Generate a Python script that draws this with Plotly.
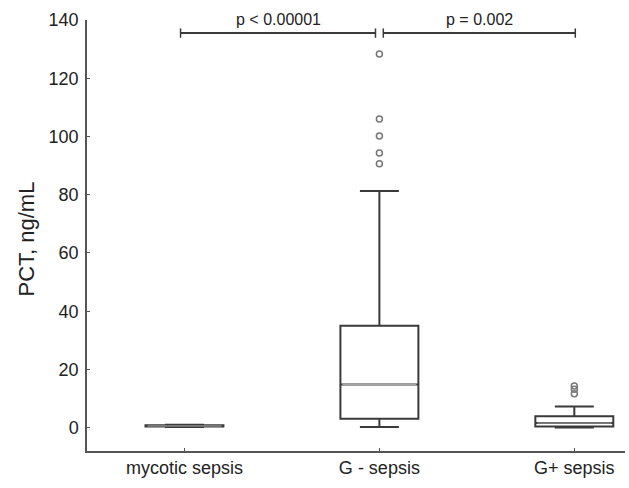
import plotly.graph_objects as go

categories = ["mycotic sepsis", "G - sepsis", "G+ sepsis"]
q1 = [0.4, 3.1, 0.4]
median = [0.6, 14.8, 1.6]
q3 = [0.8, 35.0, 3.9]
lowerfence = [0.2, 0.2, 0.1]
upperfence = [1.0, 81.3, 7.3]
outliers = [[], [90.6, 94.3, 100.2, 106.0, 128.3], [11.7, 13.2, 14.3]]
comparisons = [(0, 1, "p < 0.00001"), (1, 2, "p = 0.002")]
bracket_y = 135.5
y_ticks = [0, 20, 40, 60, 80, 100, 120, 140]
y_title = "PCT, ng/mL"

positions = list(range(len(categories)))
box_w = 0.4
dark = "#3a3a3a"
font_family = "Liberation Sans, Arial, sans-serif"

fig = go.Figure()
for i, cat in enumerate(categories):
    fig.add_trace(go.Box(
        x=[positions[i]], q1=[q1[i]], median=[median[i]], q3=[q3[i]],
        lowerfence=[lowerfence[i]], upperfence=[upperfence[i]],
        width=box_w, whiskerwidth=0.5, fillcolor="white",
        line=dict(color=dark, width=2), boxpoints=False,
        showlegend=False, hoverinfo="skip"))
    # lighter median line
    fig.add_trace(go.Scatter(
        x=[positions[i] - box_w / 2 + 0.01, positions[i] + box_w / 2 - 0.01],
        y=[median[i], median[i]], mode="lines",
        line=dict(color="#b0b0b0", width=1), showlegend=False, hoverinfo="skip"))
    if outliers[i]:
        fig.add_trace(go.Scatter(
            x=[positions[i]] * len(outliers[i]), y=outliers[i], mode="markers",
            marker=dict(symbol="circle-open", size=6, color="#777777",
                        line=dict(width=1.5)),
            showlegend=False, hoverinfo="skip"))

gap = 0.02
cap = 1.6
for a, b, label in comparisons:
    x0 = positions[a] - (0.02 if a == 0 else -gap)
    x1 = positions[b] - gap if b == 1 else positions[b] + 0.005
    fig.add_shape(type="line", x0=x0, x1=x1, y0=bracket_y, y1=bracket_y,
                  line=dict(color=dark, width=2))
    for xx in (x0, x1):
        fig.add_shape(type="line", x0=xx, x1=xx, y0=bracket_y - cap, y1=bracket_y + cap,
                      line=dict(color=dark, width=1.5))
    fig.add_annotation(x=(x0 + x1) / 2, y=bracket_y, text=label, showarrow=False,
                       yanchor="bottom", yshift=3,
                       font=dict(size=16, color="#222", family=font_family))

fig.add_annotation(xref="paper", yref="paper", x=0, y=0.5, xshift=-61, yshift=-4,
                   text=y_title, textangle=-90, showarrow=False,
                   xanchor="center", yanchor="middle",
                   font=dict(size=22, color="#222", family=font_family))

fig.update_layout(
    width=629, height=488,
    margin=dict(l=87, r=4, t=20, b=37),
    plot_bgcolor="white", paper_bgcolor="white",
    font=dict(family=font_family, color="#222"),
    xaxis=dict(range=[-0.5, 2.26], tickvals=positions, ticktext=categories,
               showgrid=False, zeroline=False, showline=True, linecolor="#555",
               linewidth=1.5, ticks="inside", ticklen=3, tickcolor="#555",
               tickfont=dict(size=18)),
    yaxis=dict(range=[-8, 140], tickvals=y_ticks, showgrid=False, zeroline=False,
               showline=True, linecolor="#555", linewidth=1.5, ticks="inside",
               ticklen=3, tickcolor="#555", tickfont=dict(size=18),
               ticklabelstandoff=3),
)

fig.write_html("out.html", config={"displayModeBar": False},
               post_script="document.body.style.margin='0px';")
